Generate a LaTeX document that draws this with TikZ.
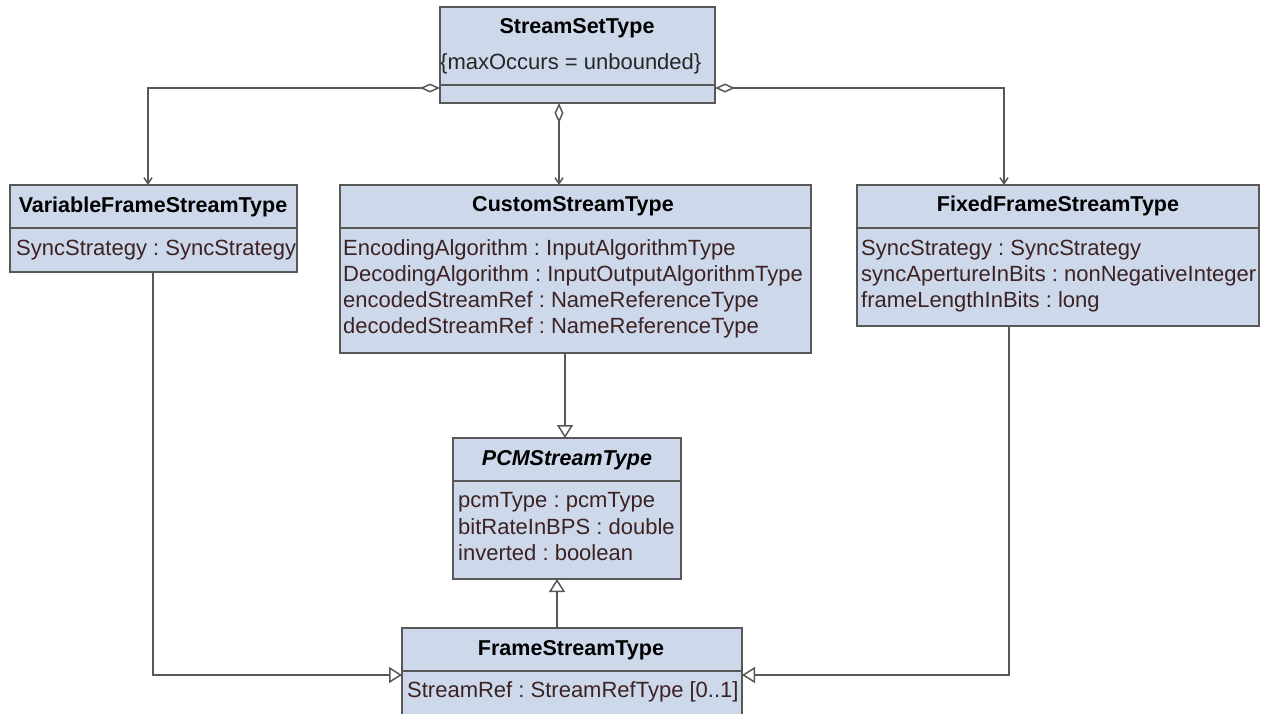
\documentclass[tikz,border=0pt]{standalone}
\usepackage{fontspec}
\setmainfont{Liberation Sans}
\usetikzlibrary{arrows.meta,calc}
\frenchspacing
\definecolor{boxfill}{RGB}{205,216,234}
\definecolor{edgec}{RGB}{88,88,88}
\definecolor{attrc}{RGB}{60,34,34}
\tikzset{
 umlbox/.style={draw=edgec, fill=boxfill, line width=1.5pt, inner sep=0pt, outer sep=0pt, anchor=north west, rectangle},
 ttl/.style={font=\fontsize{21.5}{26}\selectfont\bfseries, inner sep=0pt, text=black, text height=15pt, text depth=0pt},
 att/.style={font=\fontsize{22}{26}\selectfont, inner sep=0pt, anchor=west, text=attrc, text height=15pt, text depth=0pt},
 divl/.style={draw=edgec, line width=1.5pt},
 conn/.style={draw=edgec, line width=1.5pt},
 agg/.style={conn, {Diamond[open,length=20pt,width=9pt]}-{Straight Barb[length=6pt,width=8pt]}},
 gen/.style={conn, -{Triangle[open,length=13pt,width=16pt]}},
}
\begin{document}
\begin{tikzpicture}[x=1pt,y=-1pt]
\useasboundingbox (0,0) rectangle (1262,713);
\clip (0,0) rectangle (1262,713);
\fill[white] (0,0) rectangle (1262,713);

% helper coordinates
\coordinate (y88) at (0,88);
\coordinate (y675) at (0,675);
\coordinate (x148) at (148,0);
\coordinate (x153) at (153,0);
\coordinate (x559) at (559,0);
\coordinate (x565) at (565,0);
\coordinate (x557) at (557,0);
\coordinate (x1004) at (1004,0);
\coordinate (x1009) at (1009,0);

% StreamSetType
\node[umlbox, minimum width=275pt, minimum height=96pt] (ss) at (440,7) {};
\draw[divl] (440,85) -- (715,85);
\node[ttl] (ssT) at (577,26) {StreamSetType};
\node[att, text=black!85] (ssA) at (440,62) {\{maxOccurs = unbounded\}};

% VariableFrameStreamType
\node[umlbox, minimum width=287pt, minimum height=87pt] (var) at (10,185) {};
\draw[divl] (10,228) -- (297,228);
\node[ttl] (varT) at (153,205) {VariableFrameStreamType};
\node[att] (varA) at (16,248) {SyncStrategy : SyncStrategy};

% CustomStreamType
\node[umlbox, minimum width=471pt, minimum height=168pt] (cst) at (340,185) {};
\draw[divl] (340,228) -- (811,228);
\node[ttl] (cstT) at (573,204) {CustomStreamType};
\node[att] (cstA1) at (343,248) {EncodingAlgorithm : InputAlgorithmType};
\node[att] (cstA2) at (343,274) {DecodingAlgorithm : InputOutputAlgorithmType};
\node[att] (cstA3) at (343,300) {encodedStreamRef : NameReferenceType};
\node[att] (cstA4) at (343,326) {decodedStreamRef : NameReferenceType};

% FixedFrameStreamType
\node[umlbox, minimum width=402pt, minimum height=141pt] (fix) at (857,185) {};
\draw[divl] (857,228) -- (1259,228);
\node[ttl] (fixT) at (1058,204) {FixedFrameStreamType};
\node[att] (fixA1) at (861,248) {SyncStrategy : SyncStrategy};
\node[att] (fixA2) at (861,274) {syncApertureInBits : nonNegativeInteger};
\node[att] (fixA3) at (861,300) {frameLengthInBits : long};

% PCMStreamType
\node[umlbox, minimum width=228pt, minimum height=141pt] (pcm) at (453,438) {};
\draw[divl] (453,481) -- (681,481);
\node[ttl, font=\fontsize{21.5}{26}\selectfont\bfseries\itshape] (pcmT) at (567,458) {PCMStreamType};
\node[att] (pcmA1) at (458,500) {pcmType : pcmType};
\node[att] (pcmA2) at (458,527) {bitRateInBPS : double};
\node[att] (pcmA3) at (458,553) {inverted : boolean};

% FrameStreamType
\node[umlbox, minimum width=340pt, minimum height=112pt] (frm) at (402,628) {};
\draw[divl] (402,671) -- (742,671);
\node[ttl] (frmT) at (571,648) {FrameStreamType};
\node[att] (frmA) at (407,690) {StreamRef : StreamRefType [0..1]};

% aggregations
\draw[agg] (ss.west |- y88) -| (var.north -| x148);
\draw[agg] (ss.south -| x559) -- (cst.north -| x559);
\draw[agg] (ss.east |- y88) -| (fix.north -| x1004);

% generalizations
\draw[gen] (cst.south -| x565) -- (pcm.north -| x565);
\draw[gen] (frm.north -| x557) -- (pcm.south -| x557);
\draw[gen] (var.south -| x153) |- (frm.west |- y675);
\draw[gen] (fix.south -| x1009) |- (frm.east |- y675);
\end{tikzpicture}
\end{document}
